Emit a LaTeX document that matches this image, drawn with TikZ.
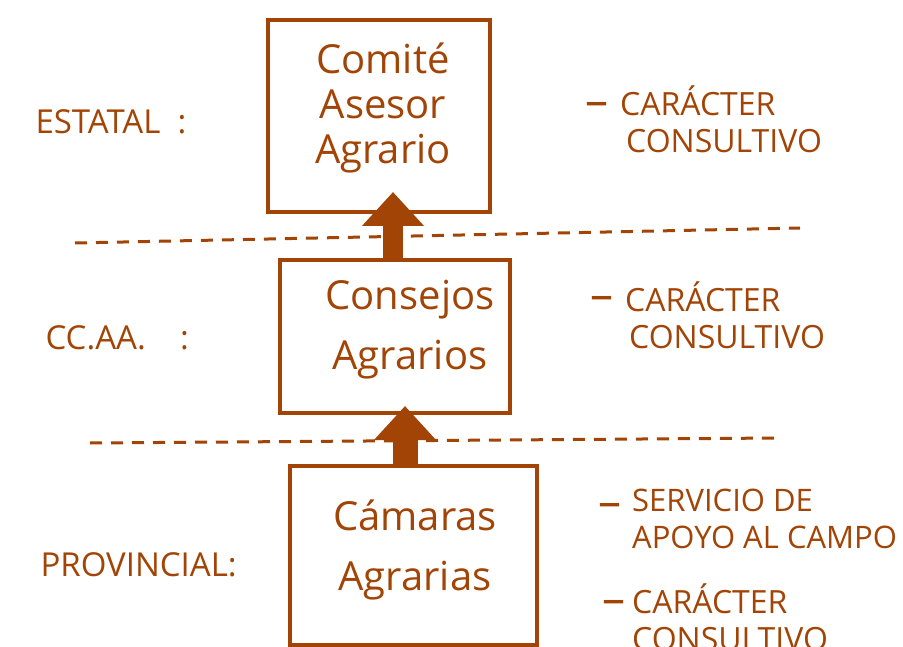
\documentclass[tikz,border=0pt]{standalone}
\usepackage{fontspec}
\setmainfont{Open Sans}
\usetikzlibrary{arrows.meta}
\definecolor{ink}{RGB}{162,68,6}
\tikzset{
  box/.style={draw=ink, line width=3.5pt, rectangle, inner sep=0pt},
  boxtext/.style={text=ink, align=center, font=\fontsize{40}{#1}\selectfont},
  lvl/.style={text=ink, anchor=west, font=\fontsize{33}{38}\selectfont},
  note/.style={text=ink, anchor=north west, align=left, inner sep=0pt, font=\fontsize{32}{37}\selectfont},
  dashmark/.style={text=ink, anchor=center, inner sep=0pt, font=\fontsize{46}{46}\selectfont},
  sep/.style={draw=ink, line width=3pt, dash pattern=on 12pt off 9pt},
  up/.style={draw=ink, line width=#1, -{Triangle[width=60pt,length=34pt,fill=ink]}},
}
\begin{document}
\begin{tikzpicture}[x=1pt,y=-1pt]
\useasboundingbox (0,0) rectangle (903,647);
% boxes
\node[box, minimum width=222pt, minimum height=192pt] (b1) at (379,116) {};
\node[box, minimum width=230pt, minimum height=153pt] (b2) at (395,336.5) {};
\node[box, minimum width=247pt, minimum height=179pt] (b3) at (413.5,555.5) {};
\node[boxtext=45] (t1) at (383,108) {Comité\\Asesor\\Agrario};
\node[boxtext=60] (t2) at (410,330) {Consejos\\Agrarios};
\node[boxtext=60] (t3) at (415,550) {Cámaras\\Agrarias};
% separators
\coordinate (s1a) at (75,243); \coordinate (s1b) at (800,228);
\coordinate (s2a) at (90,443); \coordinate (s2b) at (780,438);
\draw[sep] (s1a) -- (s1b);
\draw[sep] (s2a) -- (s2b);
% arrows
\coordinate (tip1) at (393,192);
\coordinate (tip2) at (405,406);
\draw[up=20pt] (b2.north -| tip1) -- (tip1);
\draw[up=25pt] (b3.north -| tip2) -- (tip2);
% level labels
\node[lvl] (l1) at (32,122) {ESTATAL\ \ :};
\node[lvl] (l2) at (42,338) {CC.AA.\ \ \ \ :};
\node[lvl] (l3) at (37,565) {PROVINCIAL:};
% notes
\node[dashmark] (d1) at (597,109) {–};
\node[note] (n1) at (620,86) {CARÁCTER\\\hspace*{6pt}CONSULTIVO};
\node[dashmark] (d2) at (602,303) {–};
\node[note] (n2) at (625,282) {CARÁCTER\\\hspace*{4pt}CONSULTIVO};
\node[dashmark] (d3) at (610,510) {–};
\node[note, font=\fontsize{31}{37}\selectfont] (n3) at (632,489) {SERVICIO DE\\APOYO AL CAMPO};
\node[dashmark] (d4) at (614,607) {–};
\node[note] (n4) at (632,584) {CARÁCTER\\CONSULTIVO};
\end{tikzpicture}
\end{document}
